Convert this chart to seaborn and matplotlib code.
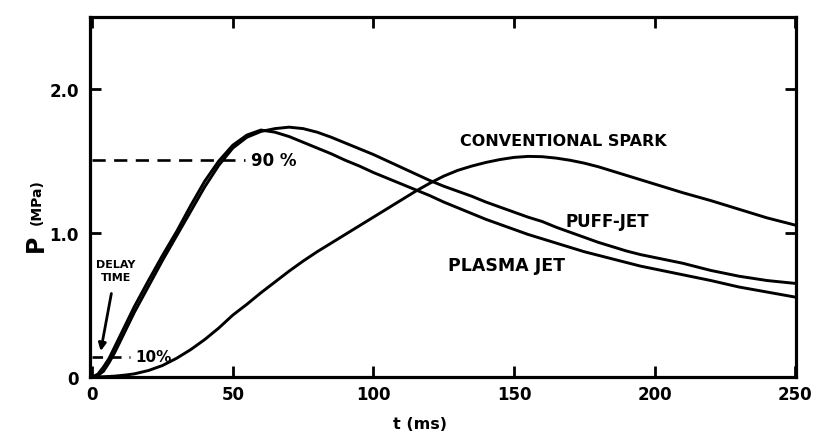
import numpy as np
import pandas as pd
import matplotlib
matplotlib.use("Agg")
import matplotlib.pyplot as plt
import seaborn as sns

# ---- data ----
t = [0, 2, 4, 6, 8, 10, 12, 15, 20, 25, 30, 35, 40, 45, 50, 55, 60, 65, 70, 75, 80,
     85, 90, 95, 100, 105, 110, 115, 120, 125, 130, 135, 140, 145, 150, 155, 160,
     165, 170, 175, 180, 185, 190, 195, 200, 210, 220, 230, 240, 250]

plasma_jet = [0.0, 0.02, 0.07, 0.13, 0.21, 0.29, 0.37, 0.49, 0.67, 0.845, 1.01, 1.19,
              1.36, 1.50, 1.61, 1.68, 1.715, 1.70, 1.67, 1.63, 1.59, 1.55, 1.505, 1.465,
              1.42, 1.38, 1.34, 1.30, 1.26, 1.215, 1.175, 1.135, 1.095, 1.06, 1.025, 0.99,
              0.96, 0.93, 0.90, 0.87, 0.845, 0.82, 0.795, 0.77, 0.75, 0.71, 0.67, 0.625,
              0.59, 0.555]

puff_jet = [0.0, 0.01, 0.04, 0.10, 0.17, 0.25, 0.33, 0.45, 0.63, 0.81, 0.98, 1.15,
            1.32, 1.47, 1.59, 1.665, 1.705, 1.725, 1.735, 1.725, 1.70, 1.665, 1.625,
            1.585, 1.545, 1.50, 1.455, 1.41, 1.365, 1.325, 1.29, 1.255, 1.215, 1.18,
            1.145, 1.11, 1.08, 1.04, 1.005, 0.97, 0.935, 0.905, 0.875, 0.85, 0.83,
            0.79, 0.74, 0.70, 0.67, 0.65]

conventional = [0.0, 0.001, 0.002, 0.004, 0.006, 0.01, 0.014, 0.022, 0.045, 0.08, 0.13,
                0.19, 0.26, 0.34, 0.43, 0.505, 0.585, 0.66, 0.735, 0.805, 0.87, 0.93,
                0.99, 1.05, 1.11, 1.17, 1.23, 1.29, 1.345, 1.395, 1.435, 1.465, 1.49,
                1.51, 1.525, 1.532, 1.53, 1.52, 1.505, 1.485, 1.46, 1.43, 1.40, 1.37,
                1.34, 1.28, 1.225, 1.165, 1.105, 1.055]

series_names = ["PLASMA JET", "PUFF-JET", "CONVENTIONAL SPARK"]
x_ticks = [0, 50, 100, 150, 200, 250]
x_tick_labels = ["0", "50", "100", "150", "200", "250"]
y_ticks = [0, 1.0, 2.0]
y_tick_labels = ["0", "1.0", "2.0"]

level_90 = 1.51
level_10 = 0.141

# ---- build table ----
df = pd.concat([
    pd.DataFrame({"t": t, "P": plasma_jet, "series": series_names[0]}),
    pd.DataFrame({"t": t, "P": puff_jet, "series": series_names[1]}),
    pd.DataFrame({"t": t, "P": conventional, "series": series_names[2]}),
])

sns.set_style("ticks")
plt.rcParams["font.family"] = ["DejaVu Sans"]
plt.rcParams["font.weight"] = "bold"
plt.rcParams["text.color"] = "black"
plt.rcParams["axes.labelcolor"] = "black"
plt.rcParams["xtick.color"] = "black"
plt.rcParams["ytick.color"] = "black"

fig = plt.figure(figsize=(8.17, 4.39), dpi=100)
ax = fig.add_axes([90 / 817, 61 / 439, 706 / 817, 360 / 439])

sns.lineplot(data=df, x="t", y="P", hue="series",
             palette={n: "black" for n in series_names},
             linewidth=2.1, legend=False, ax=ax, sort=True, estimator=None)
for ln in ax.get_lines():
    ln.set_solid_joinstyle("round")
    ln.set_solid_capstyle("round")

# reference dashed lines
ax.plot([0, 54.5], [level_90, level_90], color="black", lw=1.9, dashes=(5, 3.2))
ax.plot([0, 13.5], [level_10, level_10], color="black", lw=1.9, dashes=(4, 3))

ax.text(56.4, level_90, "90 %", fontsize=12, fontweight="bold", ha="left", va="center",
        color="black")
ax.text(15.3, level_10, "10%", fontsize=11, fontweight="bold", ha="left", va="center",
        color="black")

# delay-time annotation
ax.text(8.3, 0.74, "DELAY\nTIME", fontsize=8, fontweight="bold",
        ha="center", va="center", linespacing=1.45, color="black")
ax.annotate("", xy=(3.0, 0.18), xytext=(6.8, 0.58),
            arrowprops=dict(arrowstyle="-|>", lw=2.0, color="black",
                            mutation_scale=11, shrinkA=0, shrinkB=0))

# curve labels
ax.text(167.7, 1.645, "CONVENTIONAL SPARK", fontsize=11.5, fontweight="bold",
        ha="center", va="center", color="black")
ax.text(183.3, 1.083, "PUFF-JET", fontsize=12, fontweight="bold",
        ha="center", va="center", color="black")
ax.text(147.5, 0.78, "PLASMA JET", fontsize=12.5, fontweight="bold",
        ha="center", va="center", color="black")

# axes styling
ax.set_xlim(-0.8, 250.3)
ax.set_ylim(0, 2.5)
ax.set_xticks(x_ticks)
ax.set_xticklabels(x_tick_labels)
ax.set_yticks(y_ticks)
ax.set_yticklabels(y_tick_labels)
ax.tick_params(axis="both", direction="in", length=8, width=2.0, colors="black",
               top=True, right=True, labelsize=12)
ax.tick_params(axis="x", pad=6)
ax.tick_params(axis="y", pad=8)
for lab in ax.get_xticklabels() + ax.get_yticklabels():
    lab.set_fontweight("bold")
    lab.set_color("black")
for sp in ax.spines.values():
    sp.set_visible(True)
    sp.set_linewidth(2.3)
    sp.set_color("black")

ax.set_xlabel("")
ax.set_ylabel("")
ax.text(0.467, -0.13, "t (ms)", transform=ax.transAxes, fontsize=11.5,
        fontweight="bold", ha="center", va="center", color="black")
ax.text(-0.076, 0.375, "P", transform=ax.transAxes, fontsize=17,
        fontweight="bold", ha="center", va="center", rotation=90, color="black")
ax.text(-0.076, 0.49, "(MPa)", transform=ax.transAxes, fontsize=10,
        fontweight="bold", ha="center", va="center", rotation=90, color="black")

fig.savefig("out.png", dpi=100, facecolor="white")
